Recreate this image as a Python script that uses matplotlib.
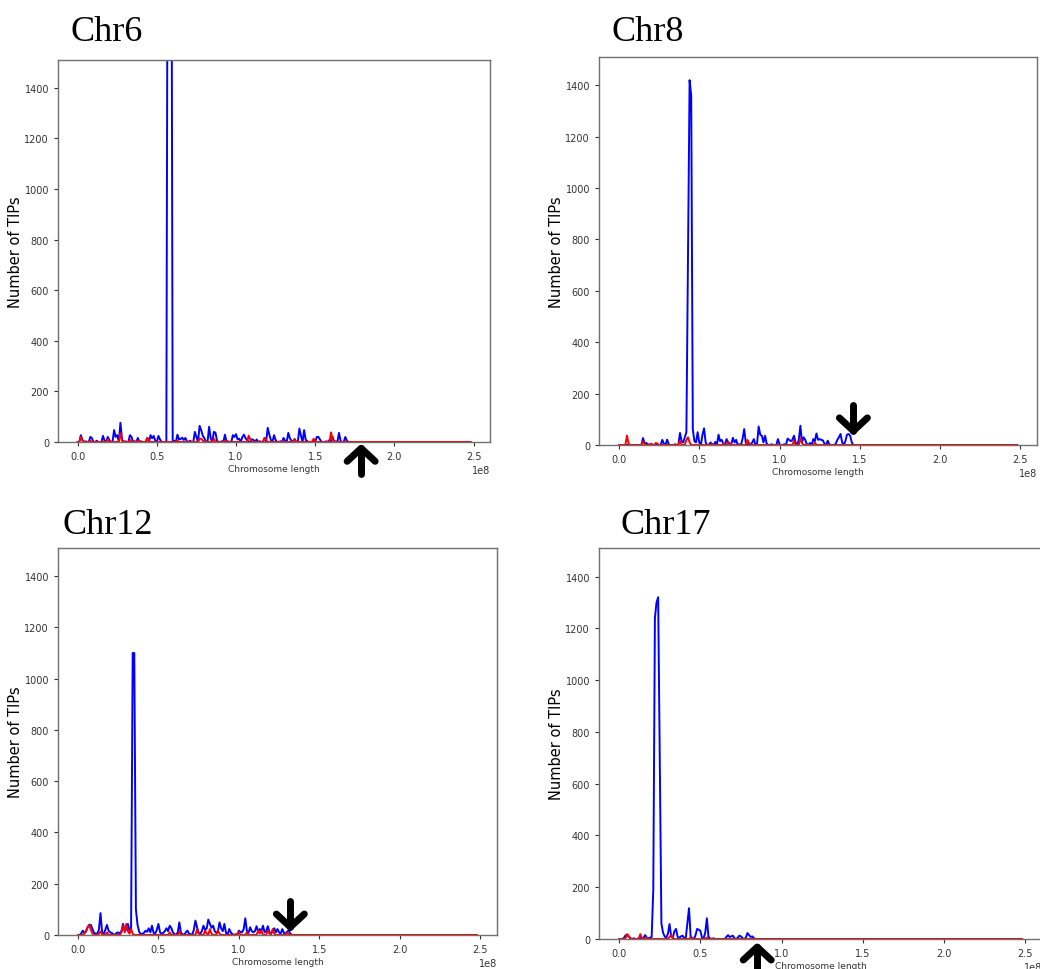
import numpy as np
import matplotlib.pyplot as plt
import matplotlib.transforms as mtransforms

# 1 Mb bins along the chromosome axis, 0 .. 248 Mb
n_bins = 249
bin_size = 1e6

# TIP counts per bin (bin index in Mb -> count); bins not listed are 0
chr6_blue = {2: 27, 3: 8, 5: 3, 8: 20, 9: 15, 12: 5, 16: 24, 17: 5, 19: 20, 20: 8,
             23: 47, 24: 20, 25: 27, 27: 76, 28: 10, 30: 3, 33: 27, 34: 20, 36: 3,
             38: 16, 40: 3, 44: 16, 46: 27, 47: 15, 48: 24, 49: 5, 51: 24, 52: 10,
             57: 2700, 58: 3000, 59: 2800, 61: 5, 63: 29, 64: 10, 65: 12, 66: 17,
             67: 8, 68: 16, 69: 3, 71: 5, 74: 40, 75: 20, 77: 64, 78: 47, 79: 25,
             80: 15, 83: 60, 84: 15, 86: 40, 87: 37, 88: 5, 91: 3, 93: 29, 95: 3,
             98: 27, 99: 20, 100: 31, 101: 10, 102: 13, 104: 20, 105: 29, 106: 15,
             107: 8, 110: 11, 111: 8, 113: 10, 115: 3, 118: 16, 120: 56, 121: 30,
             122: 8, 124: 27, 125: 8, 128: 3, 130: 16, 131: 5, 133: 36, 134: 15,
             135: 5, 137: 12, 140: 53, 141: 25, 143: 47, 144: 8, 145: 3, 149: 5,
             151: 20, 152: 20, 153: 10, 157: 3, 159: 8, 161: 20, 163: 3, 165: 36,
             166: 5, 169: 20, 170: 5}
chr6_red = {2: 20, 3: 5, 8: 5, 19: 11, 27: 35, 28: 5, 33: 9, 38: 5, 44: 16, 45: 5,
            63: 5, 77: 13, 78: 13, 79: 5, 86: 13, 93: 5, 108: 25, 109: 10, 118: 16,
            119: 8, 137: 10, 149: 13, 160: 38, 161: 10}

chr8_blue = {15: 27, 16: 5, 17: 8, 18: 3, 20: 5, 23: 3, 27: 20, 28: 5, 30: 21, 31: 3,
             35: 3, 38: 47, 39: 15, 40: 10, 41: 30, 42: 50, 43: 740, 44: 1420,
             45: 1360, 46: 60, 47: 15, 48: 10, 49: 50, 50: 10, 52: 40, 53: 65, 54: 10,
             57: 10, 58: 3, 60: 12, 62: 40, 63: 15, 64: 20, 65: 5, 67: 23, 68: 10,
             70: 5, 71: 28, 72: 10, 73: 20, 75: 3, 77: 25, 78: 62, 79: 8, 81: 5,
             83: 10, 84: 23, 86: 5, 87: 72, 88: 40, 89: 36, 90: 10, 91: 36, 92: 5,
             95: 3, 99: 23, 100: 3, 103: 3, 105: 25, 106: 20, 107: 15, 108: 20,
             109: 36, 110: 10, 112: 20, 113: 75, 114: 10, 115: 30, 116: 20, 117: 3,
             119: 8, 121: 23, 122: 15, 123: 45, 124: 20, 125: 23, 126: 20, 127: 18,
             128: 5, 130: 17, 131: 3, 135: 5, 136: 20, 137: 30, 138: 43, 139: 10,
             141: 15, 142: 40, 143: 43, 144: 36, 145: 10}
chr8_red = {5: 37, 6: 5, 15: 13, 16: 3, 20: 5, 23: 8, 24: 5, 38: 17, 42: 20, 43: 30,
            44: 10, 58: 5, 65: 5, 68: 13, 69: 5, 80: 20, 81: 8, 109: 17, 113: 26,
            114: 8, 122: 10}

chr12_blue = {2: 6, 3: 17, 4: 8, 5: 13, 6: 30, 7: 40, 8: 39, 9: 23, 10: 8, 11: 5,
              12: 5, 13: 20, 14: 85, 15: 10, 16: 5, 17: 20, 18: 39, 19: 17, 20: 10,
              21: 8, 22: 3, 24: 8, 25: 10, 26: 5, 27: 15, 28: 43, 29: 20, 30: 20,
              31: 43, 32: 17, 33: 15, 34: 1100, 35: 1100, 36: 100, 37: 40, 38: 13,
              39: 3, 40: 5, 41: 8, 42: 17, 43: 12, 44: 26, 45: 10, 46: 36, 47: 8,
              48: 5, 49: 20, 50: 43, 51: 10, 52: 5, 53: 8, 54: 15, 55: 26, 56: 15,
              57: 36, 58: 27, 59: 10, 60: 3, 62: 10, 63: 49, 64: 8, 65: 3, 67: 10,
              68: 17, 69: 5, 70: 3, 72: 20, 73: 56, 74: 30, 75: 8, 76: 5, 77: 15,
              78: 36, 79: 20, 80: 25, 81: 60, 82: 43, 83: 28, 84: 36, 85: 15, 86: 8,
              87: 15, 88: 49, 89: 25, 90: 15, 91: 43, 92: 8, 94: 23, 95: 10, 96: 3,
              98: 3, 100: 17, 101: 12, 102: 10, 103: 23, 104: 65, 105: 15, 106: 8,
              107: 30, 108: 15, 109: 10, 110: 15, 111: 34, 112: 12, 113: 23, 114: 15,
              115: 36, 116: 10, 117: 15, 118: 34, 119: 10, 120: 8, 121: 15, 122: 26,
              123: 10, 124: 23, 125: 10, 126: 5, 127: 23, 128: 8, 129: 5, 130: 13,
              131: 17, 132: 5}
chr12_red = {4: 5, 5: 17, 6: 30, 7: 39, 8: 20, 9: 5, 13: 5, 14: 13, 15: 3, 18: 10,
             27: 10, 28: 36, 29: 10, 30: 43, 31: 15, 32: 5, 33: 23, 34: 5, 57: 10,
             63: 13, 74: 21, 75: 5, 79: 17, 80: 5, 82: 23, 83: 5, 87: 17, 88: 5,
             100: 13, 105: 10, 112: 17, 113: 5, 114: 17, 118: 17, 119: 5, 121: 23,
             122: 5, 130: 10}

chr17_blue = {3: 5, 4: 15, 5: 15, 6: 10, 7: 3, 9: 3, 12: 3, 13: 5, 15: 5, 16: 15,
              17: 5, 18: 3, 19: 5, 20: 8, 21: 190, 22: 1240, 23: 1300, 24: 1320,
              25: 700, 26: 60, 27: 25, 28: 10, 29: 5, 30: 20, 31: 58, 32: 10, 33: 5,
              34: 30, 35: 39, 36: 8, 37: 5, 38: 10, 39: 13, 40: 5, 41: 3, 42: 60,
              43: 119, 44: 10, 45: 3, 47: 15, 48: 39, 49: 36, 50: 32, 51: 5, 52: 3,
              53: 25, 54: 80, 55: 8, 56: 3, 58: 3, 66: 8, 67: 15, 68: 8, 69: 10,
              70: 13, 71: 3, 73: 5, 74: 13, 75: 10, 76: 3, 78: 5, 79: 23, 80: 15,
              81: 8, 82: 10, 83: 3}
chr17_red = {4: 5, 5: 19, 6: 8, 13: 19, 14: 3, 17: 6, 31: 8, 32: 15, 33: 3, 44: 6,
             54: 6}

titles = ['Chr6', 'Chr8', 'Chr12', 'Chr17']
blue_series = [chr6_blue, chr8_blue, chr12_blue, chr17_blue]
red_series = [chr6_red, chr8_red, chr12_red, chr17_red]
# chromosome end markers: (position, count level of arrow tip, direction)
arrow_x = [1.79e8, 1.46e8, 1.32e8, 0.85e8]
arrow_y = [-25, 55, 31, -31]
arrow_dir = [1, -1, -1, 1]

# axes rectangles [left, bottom, width, height] and title anchors (figure fraction)
axes_rects = [[0.0558, 0.5433, 0.4154, 0.3938],
              [0.5760, 0.5402, 0.4212, 0.4000],
              [0.0558, 0.0351, 0.4220, 0.3990],
              [0.5760, 0.0309, 0.4260, 0.4031]]
title_pos = [(0.068, 0.958), (0.588, 0.958), (0.060, 0.449), (0.597, 0.449)]


def to_series(counts):
    y = np.zeros(n_bins)
    for b, c in counts.items():
        y[b] = c
    return y


def draw_arrow(fig, ax, x, y, direction):
    # thick chevron arrow, sized in inches, anchored at its tip (x, y)
    trans = fig.dpi_scale_trans + mtransforms.ScaledTranslation(x, y, ax.transData)
    d = direction
    kw = dict(color='black', lw=5, solid_capstyle='round', solid_joinstyle='round',
              transform=trans, clip_on=False, zorder=5)
    ax.plot([0, 0], [0, -d * 0.26], **kw)
    ax.plot([-0.14, 0, 0.14], [-d * 0.13, 0, -d * 0.13], **kw)


fig = plt.figure(figsize=(10.4, 9.7), dpi=100)
x = np.arange(n_bins) * bin_size

for i in range(4):
    ax = fig.add_axes(axes_rects[i])
    ax.plot(x, to_series(blue_series[i]), color='blue', lw=1.4)
    ax.plot(x, to_series(red_series[i]), color='red', lw=1.4)
    ax.set_ylim(0, 1510)
    ax.set_yticks([0, 200, 400, 600, 800, 1000, 1200, 1400])
    ax.set_xticks([0, 0.5e8, 1.0e8, 1.5e8, 2.0e8, 2.5e8])
    ax.tick_params(labelsize=7, colors='#333333', length=3)
    ax.xaxis.get_offset_text().set_fontsize(7)
    ax.xaxis.get_offset_text().set_color('#333333')
    for s in ax.spines.values():
        s.set_color('#707070')
        s.set_linewidth(1.0)
    ax.set_xlabel('Chromosome length', fontsize=6.5, color='#333333', labelpad=2)
    ax.set_ylabel('Number of TIPs', fontsize=10.5, labelpad=1)
    draw_arrow(fig, ax, arrow_x[i], arrow_y[i], arrow_dir[i])
    fig.text(title_pos[i][0], title_pos[i][1], titles[i], fontsize=26,
             family='Liberation Serif', va='baseline')

fig.savefig('out.png', dpi=100)
